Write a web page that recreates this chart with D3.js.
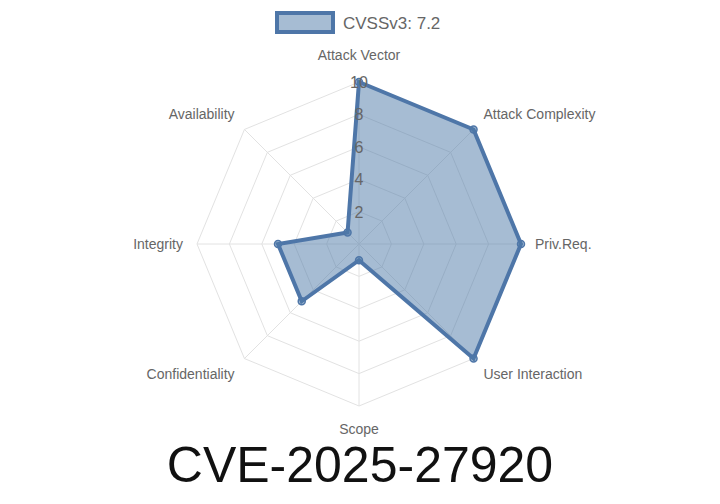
<!DOCTYPE html>
<html><head><meta charset="utf-8">
<script src="https://cdn.jsdelivr.net/npm/d3@7"></script>
<style>body{margin:0;background:#fff}</style>
</head><body><svg id="c" width="720" height="504"></svg>
<script>
const labels = ["Attack Vector","Attack Complexity","Priv.Req.","User Interaction","Scope","Confidentiality","Integrity","Availability"];
const values = [10,10,10,10,1,5,5,1];
const ticks = [2,4,6,8,10];
const legendText = "CVSSv3: 7.2";
const title = "CVE-2025-27920";

const svg = d3.select("#c");
const cx = 359, cy = 244, R = 162;
const r = d3.scaleLinear().domain([0,10]).range([0,R]);
const ang = i => -Math.PI/2 + i*2*Math.PI/labels.length;
const pt = (i,v) => [cx + r(v)*Math.cos(ang(i)), cy + r(v)*Math.sin(ang(i))];
const font = "'Liberation Sans', Arial, sans-serif";

// grid
ticks.forEach(t => {
  svg.append("polygon").attr("points", labels.map((_,i)=>pt(i,t).join(",")).join(" "))
    .attr("fill","none").attr("stroke","#e2e2e2").attr("stroke-width",1);
});
labels.forEach((_,i) => {
  const p = pt(i,10);
  svg.append("line").attr("x1",cx).attr("y1",cy).attr("x2",p[0]).attr("y2",p[1])
    .attr("stroke","#e2e2e2");
});
// point labels
labels.forEach((l,i) => {
  const a = ang(i), d = R + 14;
  const x = cx + d*Math.cos(a), y = cy + d*Math.sin(a);
  const c = Math.cos(a);
  const anchor = Math.abs(c) < 0.01 ? "middle" : (c > 0 ? "start" : "end");
  let dy = Math.sin(a);
  const yy = y + (Math.abs(dy) > 0.99 ? (dy < 0 ? -8 : 14) : 5 + dy*8);
  svg.append("text").attr("x",x).attr("y",yy).attr("text-anchor",anchor)
    .attr("font-family",font).attr("font-size",14).attr("fill","#666").text(l);
});
// data
const poly = labels.map((_,i)=>pt(i,values[i]));
svg.append("polygon").attr("points", poly.map(p=>p.join(",")).join(" "))
  .attr("fill","rgba(78,121,167,0.5)").attr("stroke","#4e76a8").attr("stroke-width",4)
  .attr("stroke-linejoin","miter");
poly.forEach(p => svg.append("circle").attr("cx",p[0]).attr("cy",p[1]).attr("r",3.5)
  .attr("fill","rgba(78,121,167,0.5)").attr("stroke","#4e76a8").attr("stroke-width",1.5));
// tick labels
ticks.forEach(t => {
  svg.append("text").attr("x",cx).attr("y",cy - r(t) + 6).attr("text-anchor","middle")
    .attr("font-family",font).attr("font-size",16).attr("fill","#666").text(t);
});
// legend
svg.append("rect").attr("x",277).attr("y",13).attr("width",56).attr("height",19)
  .attr("fill","rgba(78,121,167,0.5)").attr("stroke","#4e76a8").attr("stroke-width",4);
svg.append("text").attr("x",343).attr("y",29).attr("font-family",font).attr("font-size",17)
  .attr("fill","#666").text(legendText);
// title
svg.append("text").attr("x",360).attr("y",482).attr("text-anchor","middle")
  .attr("font-family",font).attr("font-size",50).attr("fill","#111").text(title);
</script></body></html>
